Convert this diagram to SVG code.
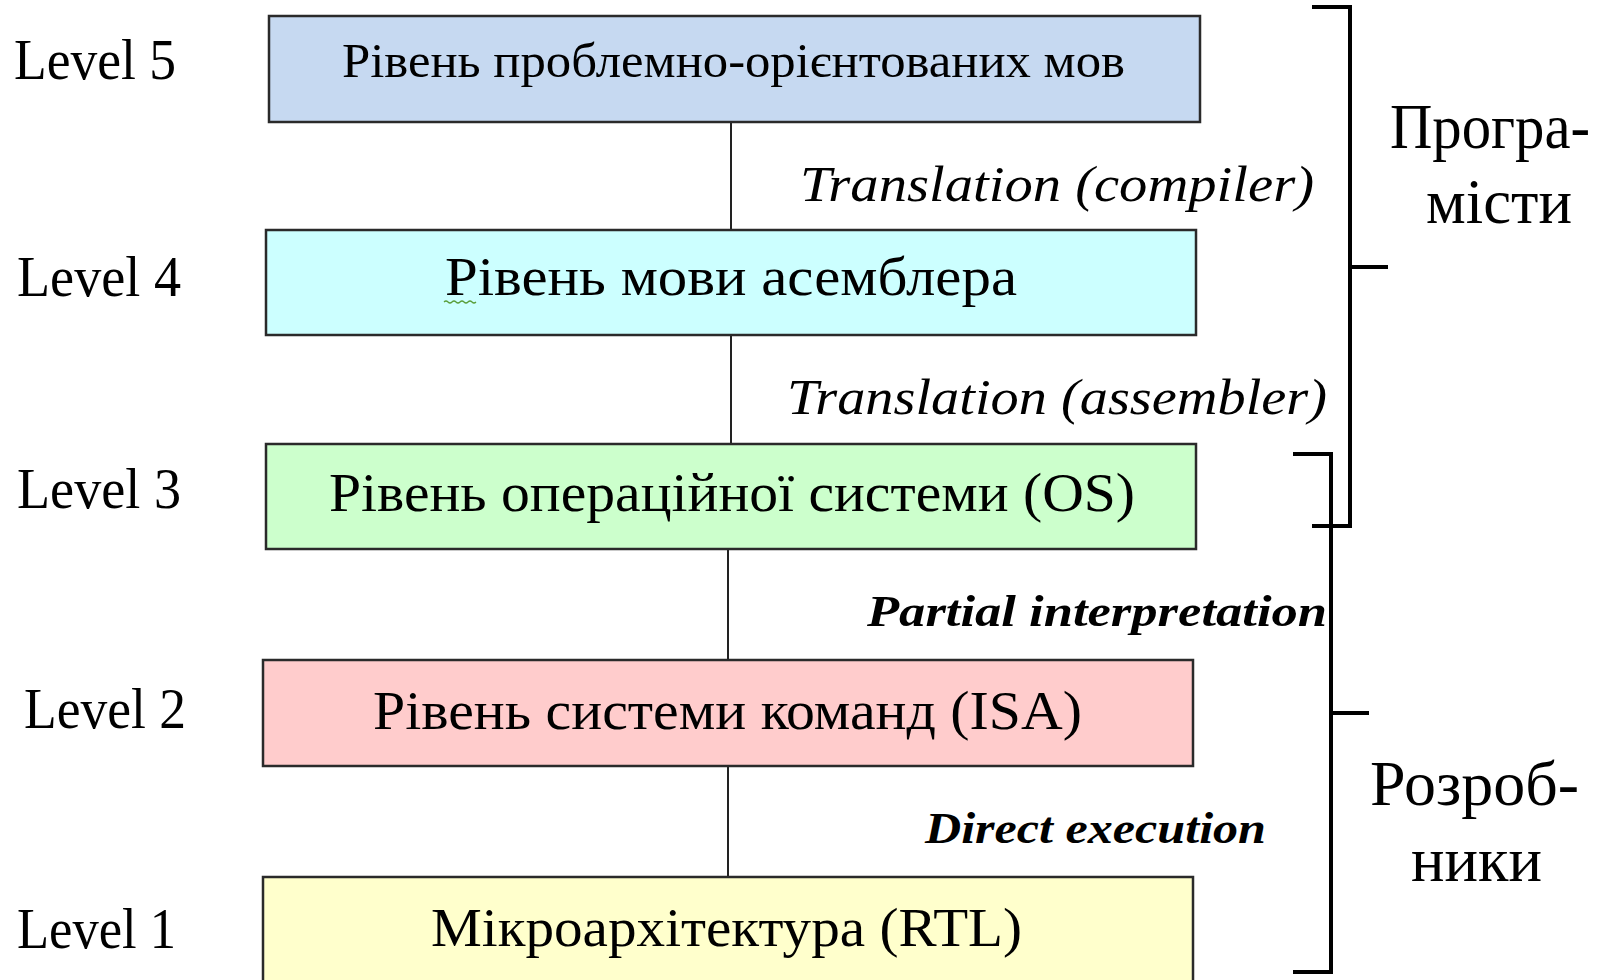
<svg xmlns="http://www.w3.org/2000/svg" width="1603" height="980" viewBox="0 0 1603 980">
<style>
.box{stroke:#2a2a2a;stroke-width:2.5}
.bt{font-family:"Liberation Serif","DejaVu Serif",serif;fill:#000;text-anchor:start}
.lvl{font-family:"Liberation Serif",serif;font-size:57px;fill:#000}
.it{font-family:"Liberation Serif","DejaVu Serif",serif;font-style:italic;fill:#000}
.bi{font-family:"Liberation Serif","DejaVu Serif",serif;font-style:italic;font-weight:bold;fill:#000}
.grp{font-family:"Liberation Serif",serif;font-size:63px;fill:#000}
.conn{stroke:#222;stroke-width:2;fill:none}
.br{stroke:#000;stroke-width:4;fill:none}
</style>
<rect width="1603" height="980" fill="#ffffff"/>
<g id="connectors">
<line class="conn" x1="731" y1="122" x2="731" y2="230"/>
<line class="conn" x1="731" y1="335" x2="731" y2="444"/>
<line class="conn" x1="728" y1="549" x2="728" y2="660"/>
<line class="conn" x1="728" y1="766" x2="728" y2="877"/>
</g>
<g id="level5">
<rect class="box" x="269" y="16" width="931" height="106" fill="#c6d9f1"/>
<text class="bt" x="342" y="77" font-size="48" textLength="783" lengthAdjust="spacingAndGlyphs">Рівень проблемно-орієнтованих мов</text>
<text class="lvl" x="14" y="79" textLength="162" lengthAdjust="spacingAndGlyphs">Level 5</text>
</g>
<g id="level4">
<rect class="box" x="266" y="230" width="930" height="105" fill="#ccffff"/>
<text class="bt" x="445" y="295" font-size="55" textLength="572" lengthAdjust="spacingAndGlyphs">Рівень мови асемблера</text>
<path d="M444 302 q2 -2 4 0 t4 0 t4 0 t4 0 t4 0 t4 0 t4 0 t4 0" stroke="#5a9e3a" stroke-width="1.2" fill="none"/>
<text class="lvl" x="17" y="296" textLength="164" lengthAdjust="spacingAndGlyphs">Level 4</text>
</g>
<g id="level3">
<rect class="box" x="266" y="444" width="930" height="105" fill="#ccffcc"/>
<text class="bt" x="329" y="511" font-size="55" textLength="806" lengthAdjust="spacingAndGlyphs">Рівень операційної системи (OS)</text>
<text class="lvl" x="17" y="508" textLength="164" lengthAdjust="spacingAndGlyphs">Level 3</text>
</g>
<g id="level2">
<rect class="box" x="263" y="660" width="930" height="106" fill="#ffcccc"/>
<text class="bt" x="373" y="729" font-size="55" textLength="709" lengthAdjust="spacingAndGlyphs">Рівень системи команд (ISA)</text>
<text class="lvl" x="24" y="728" textLength="162" lengthAdjust="spacingAndGlyphs">Level 2</text>
</g>
<g id="level1">
<rect class="box" x="263" y="877" width="930" height="110" fill="#ffffcc"/>
<text class="bt" x="431" y="946" font-size="55" textLength="591" lengthAdjust="spacingAndGlyphs">Мікроархітектура (RTL)</text>
<text class="lvl" x="17" y="948" textLength="159" lengthAdjust="spacingAndGlyphs">Level 1</text>
</g>
<g id="edge-labels">
<text class="it" x="800" y="201" font-size="51" textLength="514" lengthAdjust="spacingAndGlyphs">Translation (compiler)</text>
<text class="it" x="787" y="414" font-size="51" textLength="540" lengthAdjust="spacingAndGlyphs">Translation (assembler)</text>
<text class="bi" x="867" y="626" font-size="45" textLength="460" lengthAdjust="spacingAndGlyphs">Partial interpretation</text>
<text class="bi" x="925" y="843" font-size="45" textLength="341" lengthAdjust="spacingAndGlyphs">Direct execution</text>
</g>
<g id="programmers">
<path class="br" d="M1312 7 H1350 V526 H1312"/>
<line class="br" x1="1350" y1="267" x2="1388" y2="267"/>
<text class="grp" x="1390" y="148" textLength="200" lengthAdjust="spacingAndGlyphs">Програ-</text>
<text class="grp" x="1426" y="223" textLength="146" lengthAdjust="spacingAndGlyphs">місти</text>
</g>
<g id="developers">
<path class="br" d="M1293 454 H1331 V972 H1293"/>
<line class="br" x1="1331" y1="713" x2="1369" y2="713"/>
<text class="grp" x="1370" y="805" textLength="209" lengthAdjust="spacingAndGlyphs">Розроб-</text>
<text class="grp" x="1411" y="881" textLength="131" lengthAdjust="spacingAndGlyphs">ники</text>
</g>
</svg>
